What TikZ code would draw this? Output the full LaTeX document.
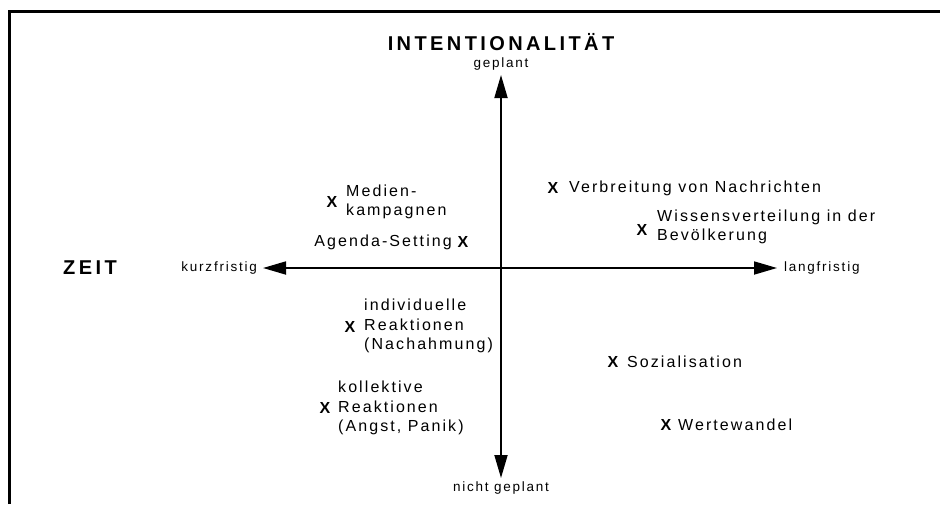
\documentclass[tikz,border=0pt]{standalone}
\usepackage{fontspec}
\setmainfont{Liberation Sans}
\newfontfamily\labfont[LetterSpace=13]{Liberation Sans}
\newfontfamily\headfont[LetterSpace=17]{Liberation Sans}
\usetikzlibrary{arrows.meta}
\begin{document}
\begin{tikzpicture}[x=1pt,y=-1pt,
  lab/.style={inner sep=0pt,align=left,font=\labfont\fontsize{16}{19.5}\selectfont},
  small/.style={inner sep=0pt,font=\labfont\fontsize{13.5}{15}\selectfont},
  head/.style={inner sep=0pt,font=\headfont\bfseries\fontsize{20}{24}\selectfont},
  xmark/.style={inner sep=0pt,font=\bfseries\fontsize{16}{18}\selectfont},
  axis/.style={line width=1.8pt,{Triangle[length=23pt,width=13pt]}-{Triangle[length=23pt,width=13pt]}},
  frame/.style={line width=3pt}]
\useasboundingbox (0,0) rectangle (940,504);
\draw[frame] (9.5,504) -- (9.5,11) -- (940,11);
% axes
\coordinate (top) at (501,75);
\coordinate (bot) at (501,478);
\coordinate (left) at (263,268);
\coordinate (right) at (777,268);
\draw[axis] (bot) -- (top);
\draw[axis] (left) -- (right);
% axis labels
\node[head] (intent) at (501,42) {INTENTIONALITÄT};
\node[small] (geplant) at (501,64) {geplant};
\node[small] (nicht) at (501,488) {nicht geplant};
\node[head] (zeit) at (90,268) {ZEIT};
\node[small,anchor=east] (kurz) at (257,268) {kurzfristig};
\node[small,anchor=west] (lang) at (784,268) {langfristig};
% items
\node[xmark] (x1) at (332,202) {X};
\node[lab,anchor=west] (t1) at (346,202) {Medien-\\kampagnen};
\node[xmark] (x2) at (463,242) {X};
\node[lab,anchor=east] (t2) at (452,242) {Agenda-Setting};
\node[xmark] (x3) at (553,188) {X};
\node[lab,anchor=west] (t3) at (569,188) {Verbreitung von Nachrichten};
\node[xmark] (x4) at (642,230) {X};
\node[lab,anchor=west,font=\labfont\fontsize{16}{18.5}\selectfont] (t4) at (657,227) {Wissensverteilung in der\\Bevölkerung};
\node[xmark] (x5) at (350,327) {X};
\node[lab,anchor=west] (t5) at (364,326) {individuelle\\Reaktionen\\(Nachahmung)};
\node[xmark] (x6) at (325,408) {X};
\node[lab,anchor=west] (t6) at (338,408) {kollektive\\Reaktionen\\(Angst, Panik)};
\node[xmark] (x7) at (613,362) {X};
\node[lab,anchor=west] (t7) at (627,362) {Sozialisation};
\node[xmark] (x8) at (666,425) {X};
\node[lab,anchor=west] (t8) at (678,425) {Wertewandel};
\end{tikzpicture}
\end{document}
